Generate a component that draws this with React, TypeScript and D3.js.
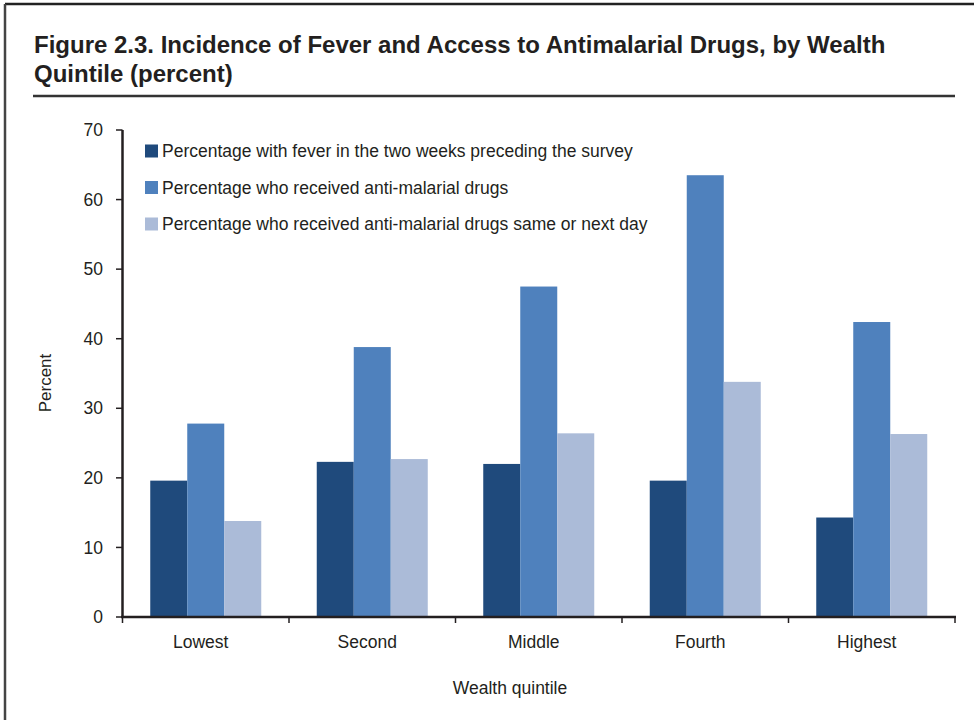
import React from "react";
import * as d3 from "d3";

const categories = ["Lowest", "Second", "Middle", "Fourth", "Highest"];
const seriesNames = [
  "Percentage with fever in the two weeks preceding the survey",
  "Percentage who received anti-malarial drugs",
  "Percentage who received anti-malarial drugs same or next day",
];
const fever = [19.6, 22.3, 22.0, 19.6, 14.3];
const antimalarial = [27.8, 38.8, 47.5, 63.5, 42.4];
const sameNextDay = [13.8, 22.7, 26.4, 33.8, 26.3];
const yTicks = [0, 10, 20, 30, 40, 50, 60, 70];
const colors = ["#1F4A7C", "#4F81BD", "#ABBBD8"];

const W = 974;
const H = 723;
const font = "'Liberation Sans', Arial, sans-serif";

export default function App() {
  const seriesValues = [fever, antimalarial, sameNextDay];
  const y = d3.scaleLinear().domain([0, 70]).range([617, 130]);
  const x = d3.scaleBand<string>().domain(categories).range([122.5, 955]).padding(0);
  const xs = d3
    .scaleBand<number>()
    .domain(seriesNames.map((_, i) => i))
    .range([0, x.bandwidth()])
    .paddingInner(0)
    .paddingOuter(0.75);
  const ink = "#231F20";

  return (
    <div style={{ position: "absolute", left: 0, top: 0 }}>
      <svg width={W} height={H} style={{ display: "block", background: "#fff" }}>
        {/* frame */}
        <line x1={5} y1={4} x2={W} y2={4} stroke="#222" strokeWidth={2.5} />
        <line x1={5} y1={4} x2={5} y2={720} stroke="#444" strokeWidth={2.5} />

        {/* title */}
        <text x={34} y={53} fontFamily={font} fontWeight="bold" fontSize={24} fill={ink}>
          Figure 2.3. Incidence of Fever and Access to Antimalarial Drugs, by Wealth
        </text>
        <text x={34} y={82} fontFamily={font} fontWeight="bold" fontSize={24} fill={ink}>
          Quintile (percent)
        </text>
        <line x1={33} x2={955} y1={96} y2={96} stroke="#333" strokeWidth={2.5} />

        {/* bars */}
        {seriesValues.map((vals, si) =>
          vals.map((v, ci) => (
            <rect
              key={`${si}-${ci}`}
              x={(x(categories[ci]) as number) + (xs(si) as number)}
              y={y(v)}
              width={xs.bandwidth()}
              height={y(0) - y(v)}
              fill={colors[si]}
            />
          ))
        )}

        {/* y axis */}
        <line x1={122.5} x2={122.5} y1={y(70)} y2={y(0)} stroke={ink} strokeWidth={2.5} />
        {yTicks.map((t) => (
          <g key={t}>
            <line x1={116} x2={122.5} y1={y(t)} y2={y(t)} stroke={ink} strokeWidth={1.5} />
            <text
              x={103}
              y={y(t)}
              dy="0.35em"
              textAnchor="end"
              fontFamily={font}
              fontSize={17.5}
              fill={ink}
            >
              {t}
            </text>
          </g>
        ))}

        {/* x axis */}
        <line x1={121} x2={956} y1={y(0)} y2={y(0)} stroke={ink} strokeWidth={2.5} />
        {[...categories.map((c) => x(c) as number), 955].map((px, i) => (
          <line key={i} x1={px} x2={px} y1={y(0)} y2={y(0) + 6} stroke={ink} strokeWidth={1.5} />
        ))}
        {categories.map((c) => (
          <text
            key={c}
            x={(x(c) as number) + x.bandwidth() / 2 - 5}
            y={648}
            textAnchor="middle"
            fontFamily={font}
            fontSize={17.5}
            fill={ink}
          >
            {c}
          </text>
        ))}

        {/* axis titles */}
        <text
          transform={`translate(51,383) rotate(-90)`}
          textAnchor="middle"
          fontFamily={font}
          fontSize={17}
          fill={ink}
        >
          Percent
        </text>
        <text x={510} y={694} textAnchor="middle" fontFamily={font} fontSize={17.5} fill={ink}>
          Wealth quintile
        </text>

        {/* legend */}
        {seriesNames.map((name, i) => (
          <g key={name} transform={`translate(145, ${151 + i * 36.5})`}>
            <rect x={0} y={-6.5} width={13} height={13} fill={colors[i]} />
            <text x={17} y={0} dy="0.35em" fontFamily={font} fontSize={17.5} fill={ink}>
              {name}
            </text>
          </g>
        ))}
      </svg>
    </div>
  );
}
